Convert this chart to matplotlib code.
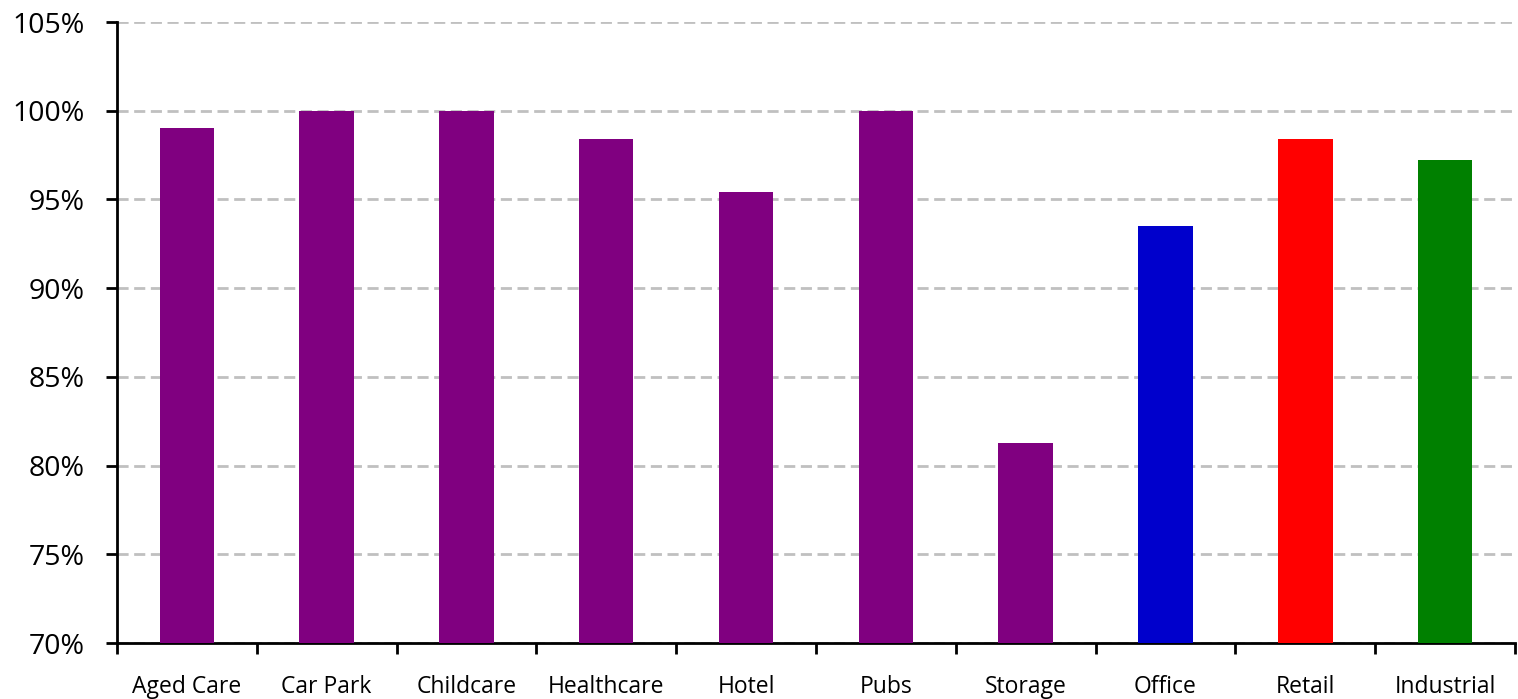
import matplotlib.pyplot as plt
import numpy as np
from matplotlib.ticker import FixedLocator

categories = ["Aged Care", "Car Park", "Childcare", "Healthcare", "Hotel",
              "Pubs", "Storage", "Office", "Retail", "Industrial"]
values = [99.0, 100.0, 100.0, 98.4, 95.4, 100.0, 81.3, 93.5, 98.4, 97.2]
colors = ["#800080"] * 7 + ["#0000CC", "#FF0000", "#008000"]
yticks = [70, 75, 80, 85, 90, 95, 100, 105]

plt.rcParams['font.family'] = ['Open Sans', 'DejaVu Sans']

fig = plt.figure(figsize=(15.18, 6.99), dpi=100)
ax = fig.add_axes([0.077, 0.08, 0.921, 0.8885])

x = np.arange(len(categories))
ax.bar(x, values, width=0.39, color=colors, zorder=3)

ax.set_xlim(-0.5, len(categories) - 0.5)
ax.set_ylim(70, 105)
ax.set_yticks(yticks)
ax.set_yticklabels([f"{v}%" for v in yticks], fontsize=20.5)
ax.set_xticks(x)
ax.set_xticklabels(categories, fontsize=16.5)
ax.xaxis.set_minor_locator(FixedLocator(np.arange(-0.5, len(categories), 1.0)))
ax.tick_params(axis='x', which='major', length=0, pad=23)
ax.tick_params(axis='x', which='minor', length=8, width=2, direction='out')
ax.tick_params(axis='y', length=8, width=2, direction='in', pad=23)

for t in ax.yaxis.get_major_ticks():
    t.tick1line.set_marker(0)  # tick extends left of axis

ax.grid(axis='y', color='#C0C0C0', linestyle=(0, (4, 2)), linewidth=2, zorder=0)
ax.set_axisbelow(True)

for s in ['top', 'right']:
    ax.spines[s].set_visible(False)
for s in ['left', 'bottom']:
    ax.spines[s].set_linewidth(2)

plt.savefig("out.png", dpi=100)
